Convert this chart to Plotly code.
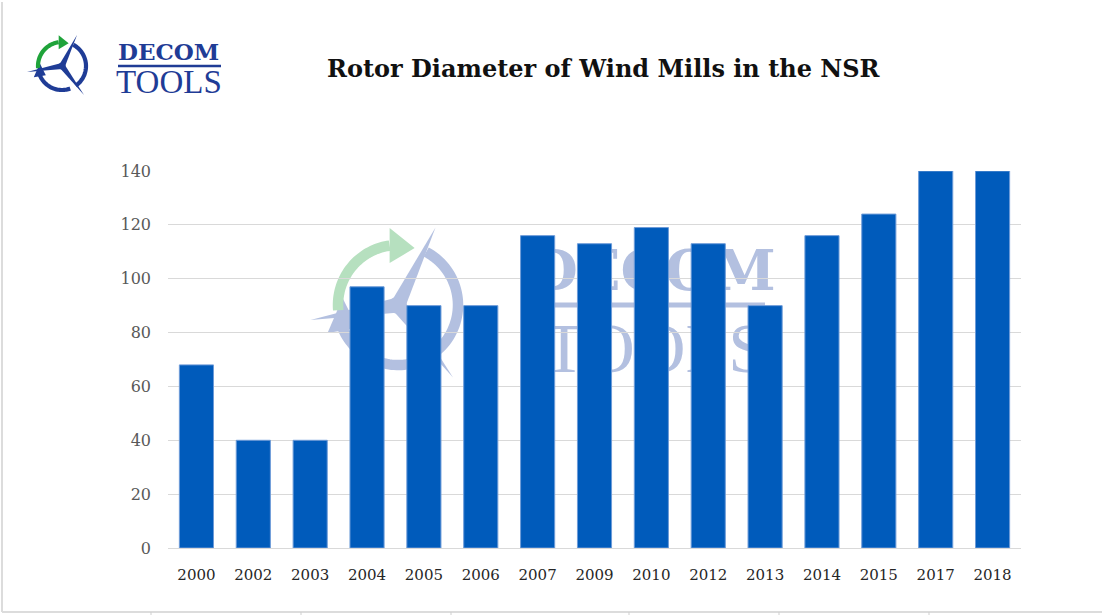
import math
import plotly.graph_objects as go

# ---- data ----
years = ["2000", "2002", "2003", "2004", "2005", "2006", "2007", "2009",
         "2010", "2012", "2013", "2014", "2015", "2017", "2018"]
rotor_diameter = [68, 40, 40, 97, 90, 90, 116, 113, 119, 113, 90, 116, 124, 140, 140]
y_ticks = [0, 20, 40, 60, 80, 100, 120, 140]
title_text = "Rotor Diameter of Wind Mills in the NSR"

# ---- canvas geometry ----
W, H = 1102, 615
ML, MR, MT, MB = 168, 81, 171, 67
PW, PH = W - ML - MR, H - MT - MB


def px(x, y):
    """pixel -> paper coordinates"""
    return (x - ML) / PW, (H - MB - y) / PH


def path_from(points, close=False):
    s = ""
    for i, (x, y) in enumerate(points):
        a, b = px(x, y)
        s += ("M" if i == 0 else "L") + f"{a:.5f},{b:.5f} "
    if close:
        s += "Z"
    return s


def arc_pts(cx, cy, r, a0, a1, n=40):
    pts = []
    for i in range(n + 1):
        a = math.radians(a0 + (a1 - a0) * i / n)
        pts.append((cx + r * math.cos(a), cy - r * math.sin(a)))
    return pts


shapes = []


def icon(cx, cy, s, blue, green, opacity=1.0):
    lw = 4.2 * s
    shapes.append(dict(type="path", xref="paper", yref="paper", layer="below",
                       path=path_from(arc_pts(cx, cy, 24 * s, 62, -55)),
                       line=dict(color=blue, width=lw), opacity=opacity))
    shapes.append(dict(type="path", xref="paper", yref="paper", layer="below",
                       path=path_from(arc_pts(cx, cy, 24 * s, -70, -165)),
                       line=dict(color=blue, width=lw), opacity=opacity))
    hx, hy = arc_pts(cx, cy, 24 * s, -165, -165, 1)[0]
    shapes.append(dict(type="path", xref="paper", yref="paper", layer="below",
                       path=path_from([(hx - 5 * s, hy + 5 * s), (hx + 1 * s, hy - 9 * s),
                                       (hx + 7 * s, hy + 3 * s)], close=True),
                       fillcolor=blue, line=dict(width=0), opacity=opacity))
    shapes.append(dict(type="path", xref="paper", yref="paper", layer="below",
                       path=path_from(arc_pts(cx, cy, 24 * s, 185, 98)),
                       line=dict(color=green, width=lw), opacity=opacity))
    gx, gy = arc_pts(cx, cy, 24 * s, 98, 98, 1)[0]
    shapes.append(dict(type="path", xref="paper", yref="paper", layer="below",
                       path=path_from([(gx, gy - 7 * s), (gx + 10 * s, gy + 1 * s),
                                       (gx, gy + 7 * s)], close=True),
                       fillcolor=green, line=dict(width=0), opacity=opacity))
    blades = [((cx + 15 * s, cy - 31 * s), 3.0), ((cx - 35 * s, cy + 6 * s), 3.0),
              ((cx + 22 * s, cy + 29 * s), 3.0)]
    for (tx, ty), bw in blades:
        dx, dy = tx - cx, ty - cy
        L = math.hypot(dx, dy)
        nx, ny = -dy / L * bw * s, dx / L * bw * s
        shapes.append(dict(type="path", xref="paper", yref="paper", layer="below",
                           path=path_from([(cx + nx, cy + ny), (tx, ty), (cx - nx, cy - ny)],
                                          close=True),
                           fillcolor=blue, line=dict(width=0), opacity=opacity))
    shapes.append(dict(type="circle", xref="paper", yref="paper", layer="below",
                       x0=px(cx - 3.5 * s, 0)[0], x1=px(cx + 3.5 * s, 0)[0],
                       y0=px(0, cy + 3.5 * s)[1], y1=px(0, cy - 3.5 * s)[1],
                       fillcolor=blue, line=dict(width=0), opacity=opacity))


# top-left logo icon
icon(62, 66, 1.0, "#1f3c96", "#1fa33a")
# watermark icon
icon(398, 305, 2.5, "#b3c0e0", "#b6e0bf")

# logo separator lines
for (x0, x1, y, col, w) in [(118, 221, 66, "#1f3c96", 2.5), (540, 765, 305, "#b3c0e0", 5)]:
    a0, b0 = px(x0, y)
    a1, _ = px(x1, y)
    shapes.append(dict(type="line", xref="paper", yref="paper", layer="below",
                       x0=a0, x1=a1, y0=b0, y1=b0, line=dict(color=col, width=w)))

# watermark text as shape labels (drawn below the bars)
for (txt, x0, x1, y0, y1, size, fam) in [
        ("<b>DECOM</b>", 535, 770, 242, 292, 56, "DejaVu Serif"),
        ("TOOLS", 530, 780, 308, 372, 70, "Liberation Serif")]:
    a0, b0 = px(x0, y1)
    a1, b1 = px(x1, y0)
    shapes.append(dict(type="rect", xref="paper", yref="paper", layer="below",
                       x0=a0, x1=a1, y0=b0, y1=b1, line=dict(width=0),
                       fillcolor="rgba(0,0,0,0)",
                       label=dict(text=txt, textposition="middle center",
                                  font=dict(family=fam, size=size, color="#b3c0e0"))))

# slide frame: left and bottom border lines with small ticks
for (x0, y0, x1, y1, w) in [(2, 2, 2, 612, 2), (2, 612, 1102, 612, 2)]:
    a0, b0 = px(x0, y0)
    a1, b1 = px(x1, y1)
    shapes.append(dict(type="line", xref="paper", yref="paper", layer="above",
                       x0=a0, x1=a1, y0=b0, y1=b1, line=dict(color="#dcdcdc", width=w)))
for tx in [151, 301, 451, 629, 779, 929]:
    a0, b0 = px(tx, 612)
    _, b1 = px(tx, 615)
    shapes.append(dict(type="line", xref="paper", yref="paper", layer="above",
                       x0=a0, x1=a0, y0=b0, y1=b1, line=dict(color="#cfcfcf", width=1)))

fig = go.Figure()
fig.add_trace(go.Bar(
    x=years, y=rotor_diameter,
    marker=dict(color="#005bbb", line=dict(color="#6d9bd8", width=1)),
    hoverinfo="x+y",
))

annotations = []
tx, ty = px(604, 68)
annotations.append(dict(text="<b>%s</b>" % title_text, x=tx, y=ty, xref="paper", yref="paper",
                        showarrow=False, xanchor="center", yanchor="middle",
                        font=dict(family="DejaVu Serif", size=24, color="#111111")))
ax, ay = px(116, 52)
annotations.append(dict(text="<b>DECOM</b>", x=ax, y=ay, xref="paper", yref="paper",
                        showarrow=False, xanchor="left", yanchor="middle",
                        font=dict(family="DejaVu Serif", size=23, color="#1f3c96")))
ax, ay = px(114, 82)
annotations.append(dict(text="TOOLS", x=ax, y=ay, xref="paper", yref="paper",
                        showarrow=False, xanchor="left", yanchor="middle",
                        font=dict(family="Liberation Serif", size=33, color="#1f3c96")))

fig.update_layout(
    width=W, height=H,
    margin=dict(l=ML, r=MR, t=MT, b=MB, pad=0),
    paper_bgcolor="white", plot_bgcolor="rgba(0,0,0,0)",
    bargap=0.4,
    showlegend=False,
    shapes=shapes,
    annotations=annotations,
    xaxis=dict(type="category", showgrid=False, showline=False, ticks="",
               tickfont=dict(family="DejaVu Serif", size=15, color="#262626"),
               ticklabelstandoff=16),
    yaxis=dict(range=[0, 140], tickvals=y_ticks, showgrid=True, gridcolor="#d9d9d9",
               gridwidth=1, zeroline=True, zerolinecolor="#d9d9d9", zerolinewidth=1,
               showline=False, ticks="",
               tickfont=dict(family="DejaVu Serif", size=16, color="#595959"),
               ticklabelstandoff=16),
)

fig.write_html("out.html", config={"displayModeBar": False},
               post_script="document.body.style.margin='0';document.body.style.overflow='hidden';")
